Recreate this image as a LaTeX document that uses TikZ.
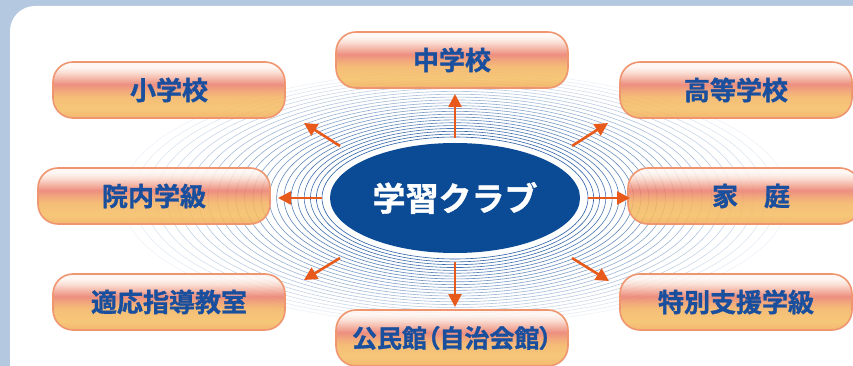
\documentclass[tikz,border=0pt]{standalone}
\usepackage{fontspec}
\newfontfamily\jpb{Noto Sans CJK JP Bold}[FakeBold=1.2]
\newfontfamily\jpbp{Noto Sans CJK JP Bold}[FakeBold=1.2,RawFeature=+palt]
\usetikzlibrary{arrows.meta,shapes.geometric,fadings}
\definecolor{bgblue}{HTML}{B4C8DF}
\definecolor{txtblue}{HTML}{1A4F9E}
\definecolor{clubblue}{HTML}{0B4A94}
\definecolor{ringblue}{HTML}{2A5EA4}
\definecolor{arrorange}{HTML}{E85A1B}
\definecolor{boxborder}{HTML}{EF9670}
\definecolor{pA}{HTML}{F2AC58}
\definecolor{pB}{HTML}{F5BE61}
\definecolor{pC}{HTML}{F4B260}
\definecolor{pD}{HTML}{EF9266}
\definecolor{pE}{HTML}{EB7B6B}
\definecolor{pF}{HTML}{F2A794}
\definecolor{pG}{HTML}{FADBCF}
\definecolor{pH}{HTML}{FEF6F2}
\pgfdeclareverticalshading{pill}{100bp}{color(0bp)=(pA); color(25bp)=(pA); color(33bp)=(pB); color(44bp)=(pC); color(51bp)=(pD); color(55bp)=(pE); color(60bp)=(pF); color(66bp)=(pG); color(71bp)=(pH); color(100bp)=(pH)}
\tikzset{
  pillbox/.style={rounded corners=20pt, minimum width=232pt, minimum height=56pt,
    draw=boxborder, line width=1.6pt, shading=pill, fill opacity=0.85, text opacity=1,
    text=txtblue, font=\jpb\fontsize{26pt}{26pt}\selectfont, inner sep=0pt},
  ring/.style={draw=ringblue, line width=0.6pt},
  arr/.style={draw=arrorange, line width=2.6pt, -{Triangle[length=13pt,width=13pt]}},
}
\begin{document}
\begin{tikzpicture}[x=1pt,y=-1pt]
\useasboundingbox (0,0) rectangle (853,366);
\clip (0,0) rectangle (853,366);
\fill[bgblue] (0,0) rectangle (853,366);
\fill[white, rounded corners=25pt] (10,6) rectangle (900,420);
% concentric rings
\foreach \i in {0,...,23}{
  \pgfmathsetmacro\rx{133+5.5*\i+0.14*\i*\i}
  \pgfmathsetmacro\ry{61+2.85*\i}
  \pgfmathsetmacro\op{max(0.06,1-0.04*\i)}
  \draw[ring, draw opacity=\op] (455,198) ellipse [x radius=\rx pt, y radius=\ry pt];
}
% boxes
\node[pillbox] (b1) at (169,90) {小学校};
\node[pillbox] (b2) at (452,60) {中学校};
\node[pillbox] (b3) at (736,90) {高等学校};
\node[pillbox] (b4) at (154,196) {院内学級};
\node[pillbox] (b5) at (744,196) {\hspace*{14pt}家\hspace{1em}庭};
\node[pillbox] (b6) at (169,302) {適応指導教室};
\node[pillbox, font=\jpbp\fontsize{25pt}{25pt}\selectfont] (b7) at (452,338) {公民館（自治会館）};
\node[pillbox] (b8) at (736,302) {特別支援学級};
% centre
\node[ellipse, fill=clubblue, minimum width=250pt, minimum height=110pt, inner sep=0pt,
  text=white, font=\jpb\fontsize{33pt}{33pt}\selectfont] (c) at (455,198) {学習クラブ};
% arrow end points
\coordinate (t1) at (340,146); \coordinate (h1) at (304,123);
\coordinate (t2) at (455,138); \coordinate (h2) at (455,94);
\coordinate (t3) at (572,146); \coordinate (h3) at (608,123);
\coordinate (t4) at (322,198); \coordinate (h4) at (278,198);
\coordinate (t5) at (588,198); \coordinate (h5) at (630,198);
\coordinate (t6) at (340,258); \coordinate (h6) at (304,280);
\coordinate (t7) at (455,262); \coordinate (h7) at (455,307);
\coordinate (t8) at (572,258); \coordinate (h8) at (609,281);
\foreach \k in {1,...,8}{ \draw[arr] (t\k) -- (h\k); }
\end{tikzpicture}
\end{document}
